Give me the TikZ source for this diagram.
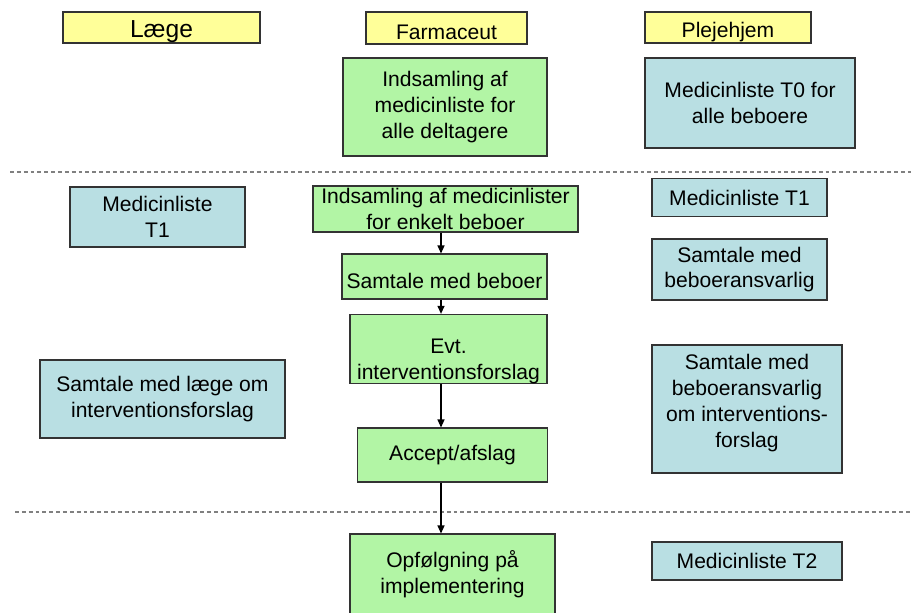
\documentclass[tikz,border=0pt]{standalone}
\usepackage{fontspec}
\setmainfont{Liberation Sans}
\definecolor{headyellow}{RGB}{255,255,153}
\definecolor{farmgreen}{RGB}{178,245,165}
\definecolor{plejeblue}{RGB}{185,223,227}
\usepackage{tikz}
\usetikzlibrary{arrows.meta,positioning}

\begin{document}
\begin{tikzpicture}[
  head/.style={rectangle, draw=black!80, line width=0.6pt, fill=headyellow, inner sep=0pt, align=center, font=\fontsize{12}{14.7}\selectfont},
  farm/.style={rectangle, draw=black!80, line width=0.6pt, fill=farmgreen, inner sep=0pt, align=center, font=\fontsize{12}{14.7}\selectfont},
  pleje/.style={rectangle, draw=black!80, line width=0.6pt, fill=plejeblue, inner sep=0pt, align=center, font=\fontsize{12}{14.7}\selectfont},
  phase/.style={gray, line width=0.6pt, dash pattern=on 2.2pt off 1.7pt},
  flow/.style={-{Triangle[length=1.6mm,width=1.4mm]}, line width=0.7pt, black}
]
  \useasboundingbox (0,0) rectangle (18.22,12.24);

  % column heads
  \node[head, minimum width=3.94cm, minimum height=0.62cm, font=\fontsize{14}{16}\selectfont, text height=14.6pt, text depth=2.9pt] (laege) at (3.23,11.69) {Læge};
  \node[head, minimum width=3.22cm, minimum height=0.64cm, text height=12.6pt, text depth=0pt] (farmaceut) at (8.93,11.68) {Farmaceut};
  \node[head, minimum width=3.32cm, minimum height=0.62cm, text height=13.8pt, text depth=2.5pt] (plejehjem) at (14.56,11.69) {Plejehjem};

  % T0
  \node[farm, minimum width=4.08cm, minimum height=1.96cm] (indsamAlle) at (8.90,10.10) {Indsamling af\\medicinliste for\\alle deltagere};
  \node[pleje, minimum width=4.20cm, minimum height=1.80cm] (medTnul) at (15.00,10.18) {Medicinliste T0 for\\alle beboere};

  \draw[phase] (0.2,8.80) -- (18.22,8.80);

  % T1
  \node[pleje, minimum width=3.50cm, minimum height=1.20cm] (medTetL) at (3.15,7.90) {Medicinliste\\T1};
  \node[farm, minimum width=5.30cm, minimum height=0.92cm] (indsamEnk) at (8.91,8.06) {Indsamling af medicinlister\\for enkelt beboer};
  \node[pleje, minimum width=3.50cm, minimum height=0.76cm] (medTetR) at (14.79,8.29) {Medicinliste T1};

  \node[farm, minimum width=4.10cm, minimum height=0.90cm, text height=14.2pt, text depth=0pt] (samtBeb) at (8.89,6.71) {Samtale med beboer};
  \node[pleje, minimum width=3.50cm, minimum height=1.22cm] (samtAnsv) at (14.79,6.85) {Samtale med\\beboeransvarlig};

  \node[farm, minimum width=3.94cm, minimum height=1.36cm] (evt) at (8.97,5.26) {\rule{0pt}{22.2pt}Evt.\\interventionsforslag};
  \node[pleje, minimum width=3.80cm, minimum height=2.56cm] (samtAnsvInt) at (14.94,4.06) {Samtale med\\beboeransvarlig\\om interventions-\\forslag\rule[-9.3pt]{0pt}{0pt}};
  \node[pleje, minimum width=4.90cm, minimum height=1.56cm] (samtLaege) at (3.25,4.26) {Samtale med læge om\\interventionsforslag};

  \node[farm, minimum width=3.80cm, minimum height=1.08cm] (accept) at (9.05,3.14) {Accept/afslag};

  \draw[phase] (0.3,2.00) -- (18.22,2.00);

  % T2
  \node[farm, minimum width=4.10cm, minimum height=1.60cm] (opfoelg) at (9.05,0.76) {Opfølgning på\\implementering};
  \node[pleje, minimum width=3.80cm, minimum height=0.76cm] (medTto) at (14.94,1.02) {Medicinliste T2};

  \coordinate (flowx) at (8.82,0);
  \draw[flow] (indsamEnk.south -| flowx) -- (samtBeb.north -| flowx);
  \draw[flow] (samtBeb.south -| flowx) -- (evt.north -| flowx);
  \draw[flow] (evt.south -| flowx) -- (accept.north -| flowx);
  \draw[flow] (accept.south -| flowx) -- (opfoelg.north -| flowx);
\end{tikzpicture}
\end{document}
